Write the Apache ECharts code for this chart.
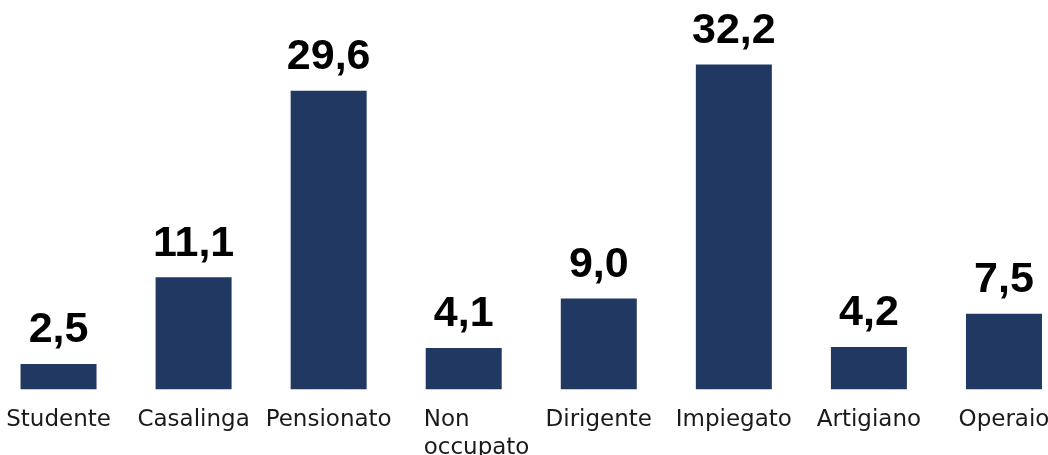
<!DOCTYPE html>
<html>
<head>
<meta charset="utf-8">
<script src="https://cdn.jsdelivr.net/npm/echarts@6/dist/echarts.min.js"></script>
<style>
  html, body { margin: 0; padding: 0; background: #ffffff; }
  #chart { width: 1048px; height: 455px; }
</style>
</head>
<body>
<div id="chart"></div>
<script>
// Occupational categories and their shares (%)
const categories = ['Studente', 'Casalinga', 'Pensionato', 'Non occupato', 'Dirigente', 'Impiegato', 'Artigiano', 'Operaio'];
const values = [2.5, 11.1, 29.6, 4.1, 9.0, 32.2, 4.2, 7.5];

const chart = echarts.init(document.getElementById('chart'), null, { renderer: 'canvas' });

chart.setOption({
  animation: false,
  backgroundColor: '#ffffff',
  grid: {
    left: -9, right: -23.5, top: 0, bottom: 65.7,
    containLabel: false,
    outerBoundsMode: 'none'
  },
  xAxis: {
    type: 'category',
    data: categories,
    axisLine: { show: false },
    axisTick: { show: false },
    axisLabel: {
      interval: 0,
      margin: 17,
      color: '#1a1a1a',
      fontFamily: 'DejaVu Sans',
      fontSize: 23,
      lineHeight: 28,
      formatter: function (v) {
        if (v === 'Non occupato') {
          return '{l|Non}\n{l|occupato}';
        }
        return v;
      },
      rich: {
        l: {
          fontFamily: 'DejaVu Sans',
          fontSize: 23,
          lineHeight: 28,
          color: '#1a1a1a',
          width: 106,
          align: 'left',
          padding: [0, 0, 0, 26]
        }
      }
    }
  },
  yAxis: {
    type: 'value',
    min: 0,
    max: 38.6,
    show: false,
    splitLine: { show: false }
  },
  series: [{
    type: 'bar',
    data: values,
    barWidth: 76,
    itemStyle: { color: '#213862' },
    label: {
      show: true,
      position: 'top',
      distance: 12,
      color: '#000000',
      fontFamily: 'Liberation Sans',
      fontWeight: 'bold',
      fontSize: 43,
      formatter: function (p) {
        return p.value.toFixed(1).replace('.', ',');
      }
    }
  }]
});
</script>
</body>
</html>
